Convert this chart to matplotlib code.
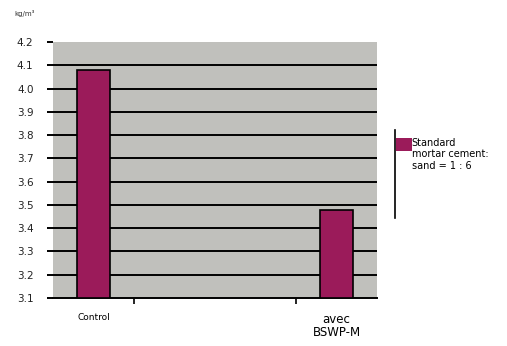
import matplotlib.pyplot as plt
from matplotlib.lines import Line2D

categories = ["Control", "", "", "avec\nBSWP-M"]
values = [4.08, None, None, 3.48]
yticks = [3.1, 3.2, 3.3, 3.4, 3.5, 3.6, 3.7, 3.8, 3.9, 4.0, 4.1, 4.2]
series_name = "Standard\nmortar cement:\nsand = 1 : 6"

bar_color = "#9b1b5a"
bg_color = "#c0c0bc"


def myplot():
    fig = plt.figure(figsize=(5.07, 3.46), dpi=100)
    ax = fig.add_axes([0.1045, 0.1387, 0.639, 0.74])
    ax.set_facecolor(bg_color)

    xs = [i for i, v in enumerate(values) if v is not None]
    hs = [v for v in values if v is not None]
    bars = ax.bar(xs, [h - 3.1 for h in hs], bottom=3.1, width=0.4,
                  color=bar_color, edgecolor="black", linewidth=1.2,
                  label=series_name, zorder=3)

    ax.set_xlim(-0.5, 3.5)
    ax.set_ylim(3.1, 4.2)
    ax.set_yticks(yticks)
    ax.set_yticklabels(["%.1f" % t for t in yticks], fontsize=7.5, color="#222222")
    for t in yticks[1:-1]:
        ax.axhline(t, color="black", lw=1.4, zorder=1)

    ax.set_xticks([0.5, 2.5], minor=True)
    ax.set_xticks([0, 3])
    ax.set_xticklabels(["Control", "avec\nBSWP-M"], fontsize=8.5, linespacing=1.0)
    ax.get_xticklabels()[0].set_fontsize(6.5)
    ax.get_xticklabels()[0].set_x(-0.3)
    ax.tick_params(axis="x", which="major", length=0, pad=11)
    ax.tick_params(axis="x", which="minor", length=4, width=1.2, direction="out")
    ax.tick_params(axis="y", length=4, width=1.4, pad=10)

    for s in ["top", "right", "left"]:
        ax.spines[s].set_visible(False)
    ax.spines["bottom"].set_linewidth(1.4)

    fig.text(0.028, 0.955, "kg/m³", fontsize=5, color="#333333")

    # legend with only a left border line
    fig.add_artist(Line2D([395 / 507, 395 / 507], [1 - 130 / 346, 1 - 218 / 346],
                          color="black", lw=1.2, transform=fig.transFigure))
    leg = fig.legend(handles=[bars], labels=[series_name], loc="upper left",
                     bbox_to_anchor=(389 / 507, 1 - 131 / 346), frameon=False,
                     fontsize=7, handlelength=1.65, handleheight=1.65,
                     handletextpad=0.0, borderpad=0.2, labelspacing=0.2)
    for col in leg._legend_handle_box.get_children():
        for row in col.get_children():
            row.align = "top"
    leg.get_patches()[0].set_linewidth(0)

    fig.savefig("out.png", dpi=100)


if __name__ == "__main__":
    myplot()
